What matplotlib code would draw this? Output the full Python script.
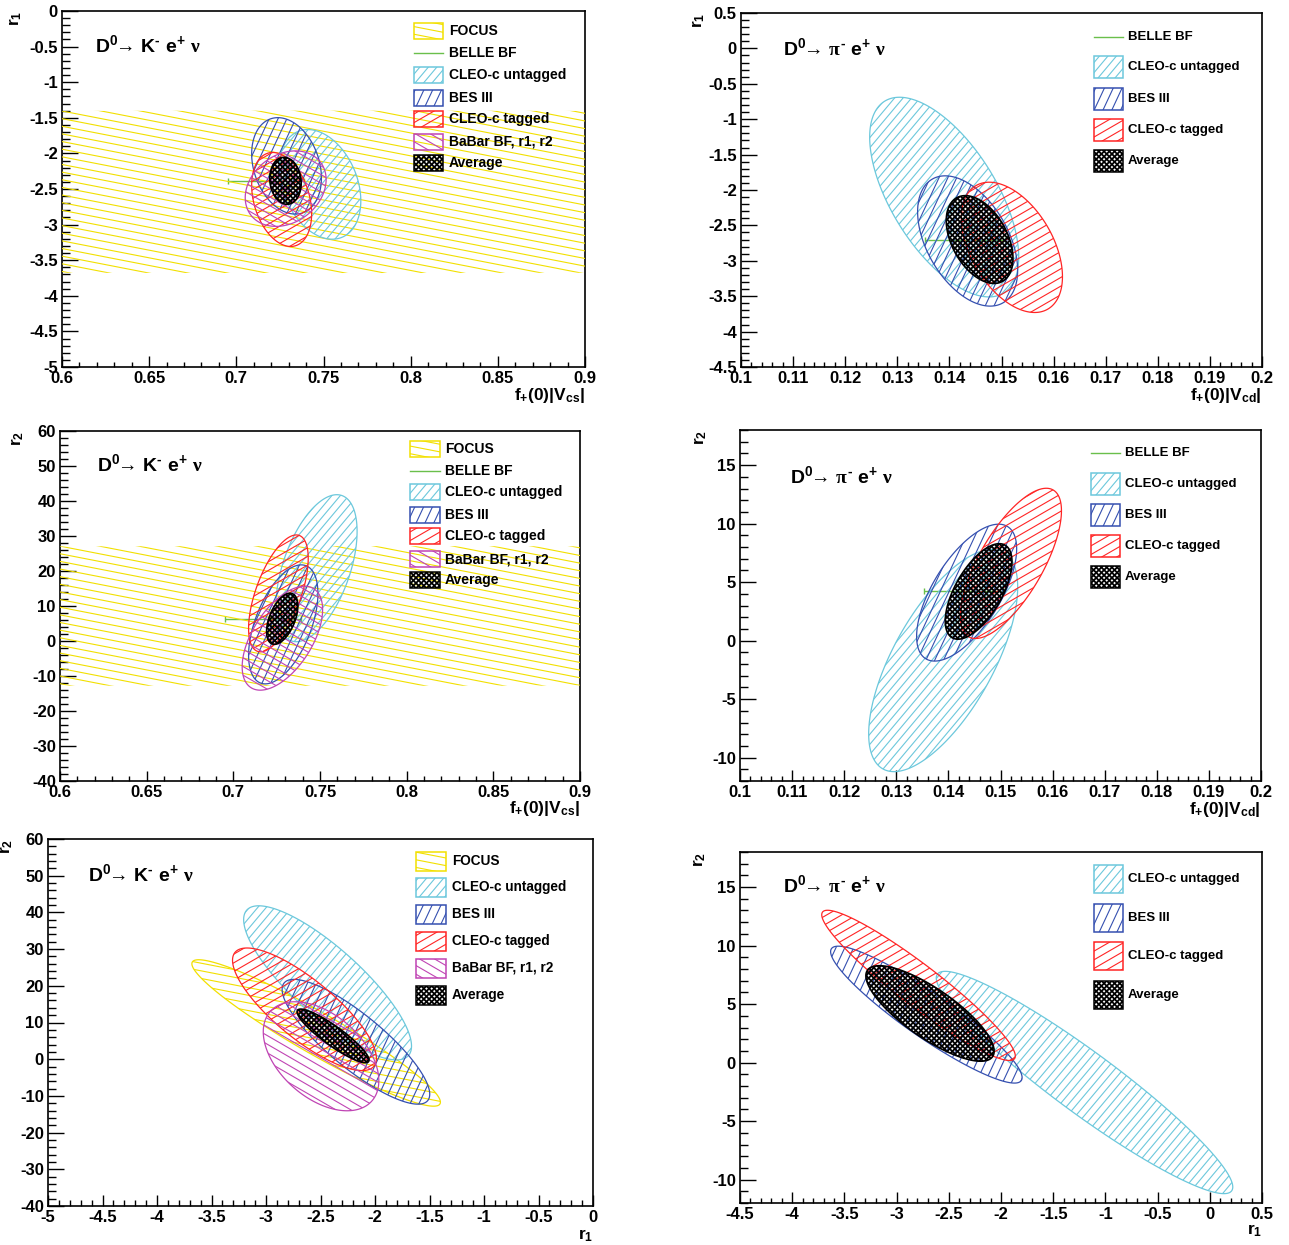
import numpy as np
import matplotlib
matplotlib.use('Agg')
import matplotlib.pyplot as plt
from matplotlib.patches import Polygon
from matplotlib.collections import LineCollection
from matplotlib.transforms import IdentityTransform, Bbox
from matplotlib.ticker import MultipleLocator, FuncFormatter

plt.rcParams['font.family'] = ['Liberation Sans', 'DejaVu Sans']
plt.rcParams['font.weight'] = 'bold'
plt.rcParams['mathtext.fontset'] = 'custom'
plt.rcParams['mathtext.rm'] = 'Liberation Sans:bold'
plt.rcParams['mathtext.bf'] = 'Liberation Sans:bold'
plt.rcParams['mathtext.it'] = 'Liberation Serif'
plt.rcParams['axes.unicode_minus'] = False

#%% Data

BELLE = 'BELLE BF'

# D0 -> K- e+ nu : f+(0)|Vcs|, r1, r2
k_names     = ['FOCUS', 'CLEO-c untagged', 'BES III', 'CLEO-c tagged', 'BaBar BF, r1, r2', 'Average']
k_f         = [0.75, 0.748, 0.7288, 0.726, 0.7283, 0.7282]
k_f_err     = [2.0, 0.0234, 0.0200, 0.0172, 0.0232, 0.0090]
k_r1        = [-2.54, -2.435, -2.175, -2.647, -2.495, -2.385]
k_r1_err    = [1.14, 0.77, 0.677, 0.66, 0.53, 0.33]
k_r2        = [7.15, 20.8, 4.75, 13.6, 0.8, 6.35]
k_r2_err    = [19.95, 21.0, 17.0, 16.7, 14.85, 7.3]
k_rho_f_r1  = [0.0, -0.3, -0.25, -0.3, 0.24, -0.1]
k_rho_f_r2  = [0.0, 0.5, 0.52, 0.6, 0.55, 0.5]
k_rho_r1_r2 = [-0.945, -0.82, -0.84, -0.80, -0.45, -0.90]

belle_k_f     = 0.717
belle_k_f_err = 0.022

# D0 -> pi- e+ nu : f+(0)|Vcd|, r1, r2
pi_names        = ['CLEO-c untagged', 'BES III', 'CLEO-c tagged', 'Average']
pi_f            = [0.139, 0.1435, 0.152, 0.1458]
pi_f_err        = [0.0143, 0.0096, 0.0097, 0.0064]
pi_r1           = [-2.10, -2.72, -2.81, -2.70]     # as drawn against f
pi_r1_err       = [1.41, 0.92, 0.92, 0.62]
pi_r1_b         = [-1.20, -2.715, -2.79, -2.68]    # as drawn against r2
pi_r1_b_err     = [1.42, 0.917, 0.927, 0.614]
pi_r2           = [-1.7, 4.1, 6.6, 4.2]
pi_r2_err       = [9.5, 5.85, 6.42, 4.08]
pi_rho_f_r1     = [-0.6, -0.45, -0.45, -0.43]
pi_rho_f_r2     = [0.66, 0.64, 0.70, 0.62]
pi_rho_r1_r2    = [-0.94, -0.92, -0.94, -0.79]

belle_pi_f     = 0.1430
belle_pi_f_err = 0.0077

#%% Styles

styles = {
    'FOCUS':            dict(color='#f2e000', angles=[-11], spacing=7.5, lw=0.8),
    'CLEO-c untagged':  dict(color='#6cc8dc', angles=[50], spacing=6.5, lw=0.8),
    'BES III':          dict(color='#3550b0', angles=[65], spacing=8.0, lw=0.8),
    'CLEO-c tagged':    dict(color='#ff2525', angles=[30], spacing=7.5, lw=0.8),
    'BaBar BF, r1, r2': dict(color='#c044b4', angles=[-30], spacing=7.5, lw=0.8),
    'Average':          dict(color='black', angles=[45, -45], spacing=3.7, lw=1.3),
}
belle_color = '#6abf4b'

W, H = 1289, 1245

# frames in pixels: left, top, right, bottom
frames = [(62, 11, 585, 367), (741, 13, 1262, 367),
          (60, 431, 580, 781), (740, 430, 1261, 781),
          (48, 839, 593, 1206), (740, 852, 1262, 1203)]

# legend layout in pixels: box x0, box x1, text x, row centres, box height, font size
legends = [(414, 443, 449, [31, 53, 75, 98, 119, 142, 163], 16, 10),
           (1094, 1123, 1128, [37, 67, 99, 130, 161], 22, 9.5),
           (410, 440, 445, [449, 471, 492, 515, 536, 559, 580], 16, 10),
           (1091, 1120, 1125, [453, 484, 515, 546, 577], 22, 9.5),
           (416, 446, 452, [861, 887, 914, 941, 968, 995], 19, 9.8),
           (1094, 1123, 1128, [879, 918, 956, 995], 28, 9.5)]


def ellipse_xy(cx, sx, cy, sy, rho, n=300):
    t = np.linspace(0, 2 * np.pi, n)
    return np.column_stack([cx + sx * np.cos(t),
                            cy + sy * (rho * np.cos(t) + np.sqrt(1 - rho ** 2) * np.sin(t))])


def hatch(ax, patch, angle, spacing, color, lw, z):
    bb = Bbox.intersection(patch.get_extents(), ax.bbox)
    if bb is None:
        return
    a = np.deg2rad(angle)
    d = np.array([np.cos(a), np.sin(a)])
    n = np.array([-np.sin(a), np.cos(a)])
    c = np.array([[bb.x0, bb.y0], [bb.x1, bb.y0], [bb.x0, bb.y1], [bb.x1, bb.y1]])
    pn, pd = c @ n, c @ d
    offs = np.arange(np.floor(pn.min() / spacing), np.ceil(pn.max() / spacing) + 1) * spacing
    segs = [[o * n + (pd.min() - 2) * d, o * n + (pd.max() + 2) * d] for o in offs]
    lc = LineCollection(segs, colors=color, linewidths=lw, transform=IdentityTransform(), zorder=z)
    lc.set_clip_path(patch)
    lc.set_clip_box(ax.bbox)
    ax.add_collection(lc, autolim=False)


def draw_ellipses(ax, names, xs, xe, ys, ye, rho, outline=True):
    for i, name in enumerate(names):
        st = styles[name]
        z = 3 + i * 0.1
        poly = Polygon(ellipse_xy(xs[i], xe[i], ys[i], ye[i], rho[i]), closed=True, fill=False,
                       edgecolor=st['color'] if outline else 'none',
                       lw=1.2 if name == 'Average' else 0.9, zorder=z + 0.05)
        ax.add_patch(poly)
        for ang in st['angles']:
            hatch(ax, poly, ang, st['spacing'], st['color'], st['lw'], z)


def draw_belle(ax, f, ferr, y):
    ax.errorbar([f], [y], xerr=[ferr], fmt='none', ecolor=belle_color, elinewidth=1.0,
                capsize=2, capthick=1.0, zorder=2.9)


def fmt(v, p):
    return '%g' % (round(v, 6) + 0.0)


def setup(ax, frame, xlim, ylim, xmaj, xmin, ymaj, ymin):
    ax.set_xlim(xlim)
    ax.set_ylim(ylim)
    ax.xaxis.set_major_locator(MultipleLocator(xmaj))
    ax.xaxis.set_minor_locator(MultipleLocator(xmin))
    ax.yaxis.set_major_locator(MultipleLocator(ymaj))
    ax.yaxis.set_minor_locator(MultipleLocator(ymin))
    ax.xaxis.set_major_formatter(FuncFormatter(fmt))
    ax.yaxis.set_major_formatter(FuncFormatter(fmt))
    wpx = frame[2] - frame[0]
    hpx = frame[3] - frame[1]
    ax.tick_params(axis='x', which='major', direction='in', length=0.03 * hpx * 0.72, width=1.0,
                   labelsize=12, pad=3, top=False)
    ax.tick_params(axis='x', which='minor', direction='in', length=0.015 * hpx * 0.72, width=1.0, top=False)
    ax.tick_params(axis='y', which='major', direction='in', length=0.03 * wpx * 0.72, width=1.0,
                   labelsize=12, pad=3, right=False)
    ax.tick_params(axis='y', which='minor', direction='in', length=0.015 * wpx * 0.72, width=1.0, right=False)
    for s in ax.spines.values():
        s.set_linewidth(1.2)


def draw_legend(ax, frame, spec, names, labels):
    bx0, bx1, tx, rows, bh, fs = spec
    l, t, r, b = frame

    def to_ax(x, y):
        return (x - l) / (r - l), (b - y) / (b - t)

    for name, lab, y in zip(names, labels, rows):
        x0, y0 = to_ax(bx0, y + bh / 2)
        x1, y1 = to_ax(bx1, y - bh / 2)
        if name == BELLE:
            ax.plot([x0, x1], [(y0 + y1) / 2] * 2, transform=ax.transAxes, color=belle_color,
                    lw=1.0, zorder=10)
        else:
            st = styles[name]
            box = Polygon([[x0, y0], [x1, y0], [x1, y1], [x0, y1]], closed=True,
                          transform=ax.transAxes, fill=False, edgecolor=st['color'],
                          lw=1.1, zorder=10.05)
            ax.add_patch(box)
            for ang in st['angles']:
                hatch(ax, box, ang, st['spacing'], st['color'], st['lw'], 10)
        txa, tya = to_ax(tx, y)
        ax.text(txa, tya, lab, transform=ax.transAxes, fontsize=fs, fontweight='bold',
                ha='left', va='center', zorder=11)


fig = plt.figure(figsize=(W / 100, H / 100), dpi=100)
axes = []
for fr in frames:
    l, t, r, b = fr
    axes.append(fig.add_axes([l / W, 1 - b / H, (r - l) / W, (b - t) / H]))

k_title = r'$\mathbf{D^{0}}\!\!\rightarrow\,\mathbf{K^{\text{-}}\ e^{+}}\ \nu$'
pi_title = r'$\mathbf{D^{0}}\!\!\rightarrow\,\pi^{\text{-}}\ \mathbf{e^{+}}\ \nu$'
f_k_label = r'$\mathbf{f_{+}(0)|V_{cs}|}$'
f_pi_label = r'$\mathbf{f_{+}(0)|V_{cd}|}$'
r1_label = r'$\mathbf{r_{1}}$'
r2_label = r'$\mathbf{r_{2}}$'

k_leg_all = ['FOCUS', BELLE] + k_names[1:]
pi_leg = [BELLE] + pi_names

# panel 1: K, f vs r1
ax = axes[0]
setup(ax, frames[0], (0.6, 0.9), (-5, 0), 0.05, 0.01, 0.5, 0.1)
draw_ellipses(ax, k_names[:1], k_f, k_f_err, k_r1, k_r1_err, k_rho_f_r1, outline=False)
draw_belle(ax, belle_k_f, belle_k_f_err, k_r1[-1])
draw_ellipses(ax, k_names[1:], k_f[1:], k_f_err[1:], k_r1[1:], k_r1_err[1:], k_rho_f_r1[1:])
draw_legend(ax, frames[0], legends[0], k_leg_all, k_leg_all)

# panel 2: pi, f vs r1
ax = axes[1]
setup(ax, frames[1], (0.1, 0.2), (-4.5, 0.5), 0.01, 0.002, 0.5, 0.1)
draw_belle(ax, belle_pi_f, belle_pi_f_err, pi_r1[-1])
draw_ellipses(ax, pi_names, pi_f, pi_f_err, pi_r1, pi_r1_err, pi_rho_f_r1)
draw_legend(ax, frames[1], legends[1], pi_leg, pi_leg)

# panel 3: K, f vs r2
ax = axes[2]
setup(ax, frames[2], (0.6, 0.9), (-40, 60), 0.05, 0.01, 10, 2)
draw_ellipses(ax, k_names[:1], k_f, k_f_err, k_r2, k_r2_err, k_rho_f_r2, outline=False)
draw_belle(ax, belle_k_f, belle_k_f_err, k_r2[-1])
draw_ellipses(ax, k_names[1:], k_f[1:], k_f_err[1:], k_r2[1:], k_r2_err[1:], k_rho_f_r2[1:])
draw_legend(ax, frames[2], legends[2], k_leg_all, k_leg_all)

# panel 4: pi, f vs r2
ax = axes[3]
setup(ax, frames[3], (0.1, 0.2), (-12, 18), 0.01, 0.002, 5, 1)
draw_belle(ax, belle_pi_f, belle_pi_f_err, pi_r2[-1])
draw_ellipses(ax, pi_names, pi_f, pi_f_err, pi_r2, pi_r2_err, pi_rho_f_r2)
draw_legend(ax, frames[3], legends[3], pi_leg, pi_leg)

# panel 5: K, r1 vs r2
ax = axes[4]
setup(ax, frames[4], (-5, 0), (-40, 60), 0.5, 0.1, 10, 2)
draw_ellipses(ax, k_names, k_r1, k_r1_err, k_r2, k_r2_err, k_rho_r1_r2)
draw_legend(ax, frames[4], legends[4], k_names, k_names)

# panel 6: pi, r1 vs r2
ax = axes[5]
setup(ax, frames[5], (-4.5, 0.5), (-12, 18), 0.5, 0.1, 5, 1)
draw_ellipses(ax, pi_names, pi_r1_b, pi_r1_b_err, pi_r2, pi_r2_err, pi_rho_r1_r2)
draw_legend(ax, frames[5], legends[5], pi_names, pi_names)

# titles and axis labels
titles = [k_title, pi_title, k_title, pi_title, k_title, pi_title]
title_pos = [(0.063, 0.904), (0.081, 0.900), (0.071, 0.906), (0.096, 0.869), (0.073, 0.905), (0.082, 0.906)]
xlabels = [f_k_label, f_pi_label, f_k_label, f_pi_label, r1_label, r1_label]
ylabels = [r1_label, r1_label, r2_label, r2_label, r2_label, r2_label]
ylabel_x = [-0.088, -0.081, -0.081, -0.075, -0.075, -0.077]

for i, ax in enumerate(axes):
    ax.text(title_pos[i][0], title_pos[i][1], titles[i], transform=ax.transAxes,
            fontsize=14, ha='left', va='center')
    ax.text(1.0, -0.08, xlabels[i], transform=ax.transAxes, fontsize=12.5, ha='right', va='center')
    ax.text(ylabel_x[i], 1.0, ylabels[i], transform=ax.transAxes, fontsize=12.5, rotation=90,
            ha='center', va='top')

plt.savefig('out.png', dpi=100)
